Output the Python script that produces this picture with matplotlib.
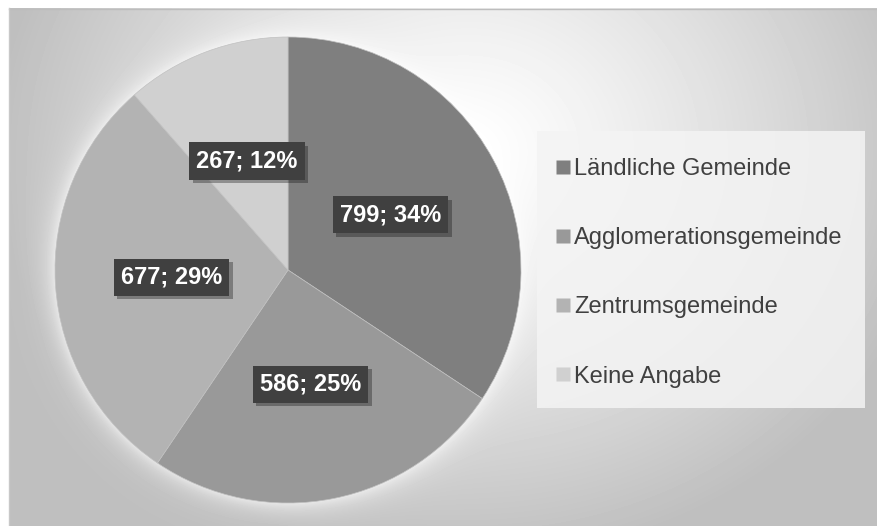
import numpy as np
import matplotlib.pyplot as plt
from matplotlib.patches import Rectangle
from matplotlib.lines import Line2D
import matplotlib.patheffects as pe

plt.rcParams['font.family'] = ['Liberation Sans', 'DejaVu Sans']

categories = ['Ländliche Gemeinde', 'Agglomerationsgemeinde', 'Zentrumsgemeinde', 'Keine Angabe']
values = [799, 586, 677, 267]
percents = [34, 25, 29, 12]
colors = ['#7f7f7f', '#999999', '#b3b3b3', '#d0d0d0']

W, H = 878, 526
fig = plt.figure(figsize=(W / 100, H / 100), dpi=100)

# background: radial grey gradient with white glow round the pie
cx, cy, R = 288, 270, 233
yy, xx = np.mgrid[0:H, 0:W] + 0.5
r = np.sqrt(((xx - 470) / 440) ** 2 + ((yy - 150) / 380) ** 2)
v = 1 - 0.23 * np.clip(r, 0, 1.08) ** 1.2
d = np.sqrt((xx - cx) ** 2 + (yy - cy) ** 2)
glow = np.exp(-np.clip(d - R, 0, None) / 11)
v = v + (1 - v) * 0.6 * glow
v[(xx < 9) | (yy < 8)] = 1.0
bg = fig.add_axes([0, 0, 1, 1])
bg.imshow(v, cmap='gray', vmin=0, vmax=1, extent=[0, W, H, 0], interpolation='bilinear')
bg.plot([9, W], [8.5, 8.5], color='#bdbdbd', lw=1)
bg.plot([9.5, 9.5], [8, H], color='#c8c8c8', lw=1)
bg.set_xlim(0, W)
bg.set_ylim(H, 0)
bg.axis('off')

# pie
ax = fig.add_axes([(cx - R) / W, (H - cy - R) / H, 2 * R / W, 2 * R / H])
wedges, _ = ax.pie(values, colors=colors, startangle=90, counterclock=False,
                   wedgeprops=dict(edgecolor='#c0c0c0', linewidth=0.5))
ax.set_xlim(-1, 1)
ax.set_ylim(-1, 1)

total = sum(values)
angle = 90
for val, pc in zip(values, percents):
    span = 360 * val / total
    mid = np.deg2rad(angle - span / 2)
    angle -= span
    t = ax.text(0.5 * np.cos(mid), 0.5 * np.sin(mid), f'{val}; {pc}%',
                ha='center', va='center', color='white', fontsize=17, fontweight='bold',
                bbox=dict(boxstyle='square,pad=0.3', facecolor='#404040', edgecolor='none'))
    t.get_bbox_patch().set_path_effects([pe.SimplePatchShadow(offset=(2.5, -2.5), alpha=0.35),
                                         pe.Normal()])

# legend
bg.add_patch(Rectangle((537, 131), 328, 277, facecolor='#f4f4f4', edgecolor='none', alpha=0.85))
handles = [Line2D([], [], marker='s', linestyle='none', markersize=10,
                  markerfacecolor=c, markeredgecolor='none') for c in colors]
fig.legend(handles, categories, loc='upper left', bbox_to_anchor=(555 / W, 1 - 158 / H),
           frameon=False, fontsize=17, labelcolor='#404040', handlelength=0.7,
           handletextpad=0.1, labelspacing=2.0, borderpad=0, borderaxespad=0)

fig.savefig('out.png', dpi=100)
